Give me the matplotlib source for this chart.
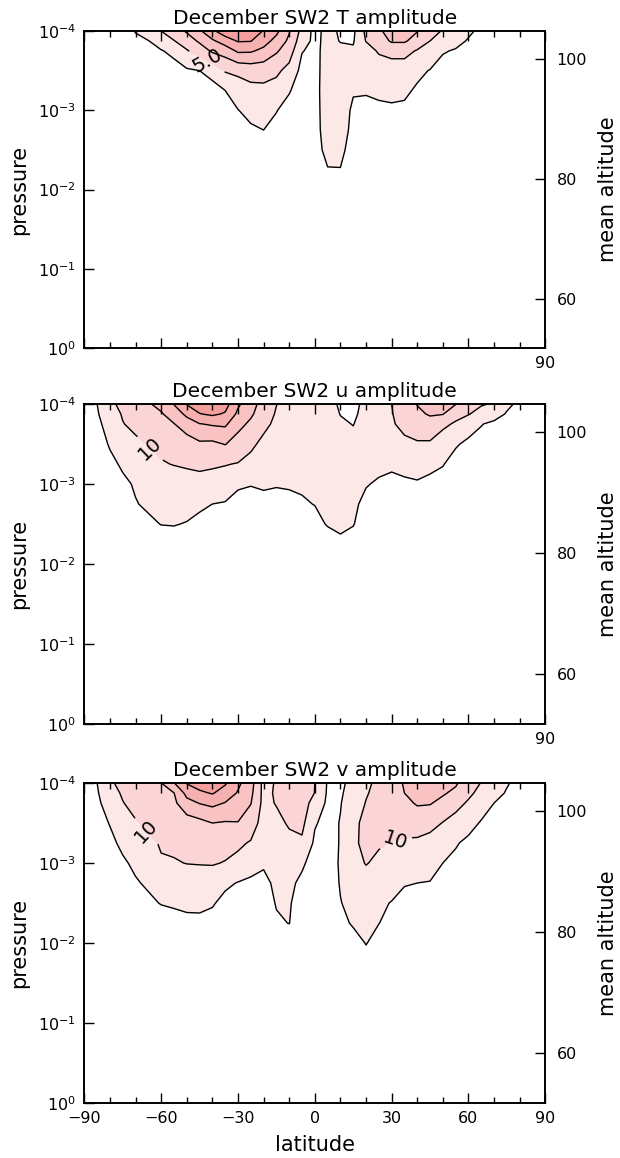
import matplotlib.pyplot as plt
import numpy as np

# latitude columns (deg) and log10(pressure) rows
lats = np.arange(-90, 91, 5)
logp = [-4, -3.875, -3.75, -3.5, -3.25, -3, -2.75, -2.5, -2.25, -2, -1.5, -1, 0]

# amplitudes, one list per latitude (top of the model down to 10^0)
t_amp = [
    [0, 0, 0, 0, 0, 0, 0, 0, 0, 0, 0, 0, 0],
    [0.2, 0.1, 0.1, 0, 0, 0, 0, 0, 0, 0, 0, 0, 0],
    [0.6, 0.5, 0.4, 0.2, 0.1, 0, 0, 0, 0, 0, 0, 0, 0],
    [1.5, 1.2, 1.0, 0.6, 0.3, 0.1, 0, 0, 0, 0, 0, 0, 0],
    [2.6, 2.1, 1.7, 1.0, 0.5, 0.2, 0.1, 0, 0, 0, 0, 0, 0],
    [3.4, 2.45, 2.0, 1.3, 0.7, 0.3, 0.1, 0, 0, 0, 0, 0, 0],
    [5.0, 3.3, 2.4, 1.5, 0.8, 0.4, 0.2, 0.1, 0, 0, 0, 0, 0],
    [6.3, 4.9, 2.9, 1.9, 1.0, 0.5, 0.2, 0.1, 0, 0, 0, 0, 0],
    [7.8, 6.2, 4.8, 2.2, 1.2, 0.7, 0.3, 0.1, 0, 0, 0, 0, 0],
    [9.6, 7.9, 6.1, 2.5, 1.6, 0.9, 0.4, 0.2, 0.1, 0, 0, 0, 0],
    [12.0, 9.6, 7.9, 3.3, 1.7, 1.1, 0.5, 0.3, 0.1, 0, 0, 0, 0],
    [14.0, 11.2, 8.6, 5.2, 2.5, 1.4, 0.8, 0.4, 0.2, 0.1, 0, 0, 0],
    [15.0, 12.7, 10.4, 5.6, 3.6, 2.45, 1.6, 0.8, 0.4, 0.2, 0.1, 0, 0],
    [14.5, 12.6, 10.3, 6.0, 4.3, 3.1, 2.2, 1.2, 0.6, 0.3, 0.1, 0, 0],
    [12.3, 11.0, 9.4, 6.0, 4.4, 3.2, 2.5, 1.4, 0.7, 0.3, 0.1, 0, 0],
    [10.6, 9.2, 7.8, 5.5, 4.0, 2.6, 1.8, 1.0, 0.5, 0.2, 0.1, 0, 0],
    [7.7, 7.0, 6.2, 4.2, 2.7, 1.6, 1.0, 0.5, 0.3, 0.1, 0, 0, 0],
    [4.2, 3.6, 2.6, 1.8, 1.2, 0.7, 0.4, 0.3, 0.2, 0.1, 0, 0, 0],
    [1.8, 1.9, 2.0, 2.1, 2.2, 2.2, 2.2, 2.1, 1.8, 1.2, 0.5, 0.1, 0],
    [3.2, 3.2, 3.2, 3.1, 3.0, 2.95, 2.9, 2.8, 2.45, 1.9, 0.9, 0.4, 0.1],
    [2.2, 2.4, 3.0, 3.2, 3.2, 3.1, 3.0, 2.9, 2.45, 1.9, 0.8, 0.3, 0.1],
    [2.0, 2.3, 2.8, 2.9, 2.6, 2.3, 2.2, 1.8, 1.2, 0.6, 0.2, 0, 0],
    [5.6, 5.1, 3.9, 3.2, 2.7, 1.9, 1.3, 0.8, 0.5, 0.3, 0.1, 0, 0],
    [7.0, 6.3, 5.3, 3.6, 2.8, 2.2, 1.4, 0.9, 0.5, 0.3, 0.1, 0, 0],
    [8.8, 7.8, 5.8, 3.8, 3.0, 2.2, 1.5, 0.9, 0.5, 0.3, 0.1, 0, 0],
    [9.0, 7.8, 5.8, 3.8, 2.9, 2.1, 1.4, 0.8, 0.4, 0.2, 0.1, 0, 0],
    [7.6, 6.5, 4.8, 3.0, 2.2, 1.7, 1.0, 0.6, 0.3, 0.2, 0.1, 0, 0],
    [6.0, 5.0, 4.0, 2.4, 1.8, 1.3, 0.8, 0.4, 0.2, 0.1, 0, 0, 0],
    [4.8, 4.0, 2.7, 1.6, 1.1, 0.8, 0.5, 0.3, 0.1, 0, 0, 0, 0],
    [3.8, 3.2, 2.3, 1.4, 0.9, 0.6, 0.3, 0.2, 0.1, 0, 0, 0, 0],
    [2.9, 2.3, 1.8, 1.1, 0.7, 0.4, 0.2, 0.1, 0, 0, 0, 0, 0],
    [2.0, 1.7, 1.3, 0.8, 0.4, 0.2, 0.1, 0, 0, 0, 0, 0, 0],
    [1.2, 1.0, 0.7, 0.4, 0.2, 0.1, 0, 0, 0, 0, 0, 0, 0],
    [0.6, 0.5, 0.4, 0.2, 0.1, 0, 0, 0, 0, 0, 0, 0, 0],
    [0.3, 0.2, 0.2, 0.1, 0, 0, 0, 0, 0, 0, 0, 0, 0],
    [0.1, 0.1, 0.1, 0, 0, 0, 0, 0, 0, 0, 0, 0, 0],
    [0, 0, 0, 0, 0, 0, 0, 0, 0, 0, 0, 0, 0],
]

u_amp = [
    [3.5, 3.0, 2.5, 1.8, 1.2, 0.8, 0.5, 0.3, 0.2, 0.1, 0, 0, 0],
    [5.0, 4.6, 4.1, 3.1, 2.2, 1.5, 1.0, 0.6, 0.4, 0.2, 0.1, 0, 0],
    [9.0, 7.7, 6.6, 5.4, 4.0, 2.8, 1.8, 1.0, 0.6, 0.3, 0.1, 0, 0],
    [11.2, 10.4, 9.8, 7.2, 5.6, 4.2, 2.6, 1.5, 0.8, 0.4, 0.1, 0, 0],
    [13.4, 12.2, 11.2, 9.0, 6.9, 5.4, 4.8, 3.2, 1.6, 0.8, 0.2, 0, 0],
    [14.5, 13.7, 12.5, 10.2, 8.2, 6.6, 5.6, 4.3, 2.6, 1.4, 0.5, 0.1, 0],
    [16.5, 14.5, 13.2, 11.2, 9.6, 7.2, 6.0, 5.1, 3.0, 1.6, 0.5, 0.1, 0],
    [20.2, 17.5, 14.8, 12.0, 10.2, 7.4, 6.2, 5.2, 3.2, 1.7, 0.5, 0.1, 0],
    [25.3, 21.0, 17.8, 12.4, 10.6, 8.0, 6.4, 4.8, 3.0, 1.5, 0.4, 0.1, 0],
    [27.5, 24.8, 19.8, 14.2, 11.0, 8.3, 5.7, 4.0, 2.9, 1.4, 0.4, 0.1, 0],
    [28.5, 25.8, 20.5, 14.0, 10.8, 7.5, 5.0, 4.0, 2.5, 1.2, 0.3, 0.1, 0],
    [27.0, 24.5, 20.8, 15.2, 10.2, 8.0, 4.6, 3.4, 2.0, 1.0, 0.3, 0.1, 0],
    [20.8, 19.0, 16.6, 12.8, 9.8, 5.6, 3.6, 2.8, 1.6, 0.8, 0.3, 0.1, 0],
    [17.0, 15.8, 14.0, 11.0, 8.5, 5.2, 3.4, 2.4, 1.5, 0.8, 0.3, 0.1, 0],
    [13.0, 12.2, 11.2, 8.8, 7.3, 5.7, 3.5, 2.3, 1.4, 0.7, 0.2, 0.1, 0],
    [10.1, 9.6, 9.0, 7.8, 6.5, 5.3, 3.6, 2.4, 1.4, 0.7, 0.2, 0.1, 0],
    [8.8, 8.6, 8.3, 7.4, 6.3, 5.4, 4.0, 2.5, 1.5, 0.8, 0.2, 0.1, 0],
    [8.0, 8.0, 7.8, 7.0, 6.2, 5.5, 4.6, 3.0, 1.8, 0.9, 0.3, 0.1, 0],
    [7.5, 7.5, 7.3, 6.8, 6.2, 5.8, 5.1, 3.8, 2.2, 1.1, 0.3, 0.1, 0],
    [6.5, 6.6, 6.6, 6.5, 6.2, 5.9, 5.6, 5.3, 3.0, 1.4, 0.4, 0.1, 0],
    [4.4, 4.9, 5.5, 6.3, 6.2, 6.0, 5.8, 5.6, 4.4, 1.8, 0.4, 0.1, 0],
    [3.8, 4.3, 4.9, 6.0, 6.3, 6.0, 5.6, 5.2, 3.4, 1.5, 0.4, 0.1, 0],
    [6.2, 6.3, 6.5, 6.6, 6.2, 5.2, 4.2, 3.0, 1.8, 0.9, 0.3, 0.1, 0],
    [8.2, 8.0, 7.7, 7.0, 5.8, 4.6, 3.2, 2.0, 1.2, 0.6, 0.2, 0.1, 0],
    [10.0, 9.8, 9.6, 8.0, 5.4, 4.4, 3.0, 1.9, 1.1, 0.5, 0.2, 0, 0],
    [12.5, 11.8, 11.0, 9.2, 5.9, 4.5, 3.0, 1.9, 1.1, 0.5, 0.2, 0, 0],
    [15.2, 14.0, 12.5, 9.5, 6.2, 4.7, 3.0, 1.9, 1.1, 0.5, 0.2, 0, 0],
    [16.0, 15.5, 13.0, 9.4, 5.6, 4.4, 2.8, 1.7, 1.0, 0.5, 0.2, 0, 0],
    [16.0, 15.2, 11.0, 7.5, 5.2, 3.6, 2.2, 1.4, 0.8, 0.4, 0.1, 0, 0],
    [15.2, 11.5, 9.4, 5.4, 3.6, 2.6, 1.6, 1.0, 0.6, 0.3, 0.1, 0, 0],
    [13.0, 10.3, 6.8, 4.2, 3.0, 2.0, 1.3, 0.8, 0.4, 0.2, 0.1, 0, 0],
    [10.5, 8.0, 5.2, 3.5, 2.4, 1.6, 1.0, 0.6, 0.3, 0.2, 0.1, 0, 0],
    [9.5, 7.0, 4.0, 3.0, 1.8, 1.2, 0.8, 0.5, 0.3, 0.1, 0, 0, 0],
    [6.0, 4.6, 3.5, 2.2, 1.3, 0.9, 0.6, 0.4, 0.2, 0.1, 0, 0, 0],
    [4.0, 3.2, 2.6, 1.6, 1.0, 0.7, 0.4, 0.3, 0.1, 0, 0, 0, 0],
    [2.5, 2.0, 1.6, 1.0, 0.6, 0.4, 0.3, 0.2, 0.1, 0, 0, 0, 0],
    [1.5, 1.2, 1.0, 0.6, 0.4, 0.3, 0.2, 0.1, 0, 0, 0, 0, 0],
]

v_amp = [
    [3.5, 3.0, 2.6, 1.9, 1.3, 0.9, 0.6, 0.4, 0.2, 0.1, 0, 0, 0],
    [5.0, 4.6, 4.2, 3.4, 2.6, 1.8, 1.2, 0.8, 0.5, 0.3, 0.1, 0, 0],
    [9.2, 8.0, 6.9, 5.2, 4.0, 3.2, 2.1, 1.2, 0.7, 0.4, 0.1, 0, 0],
    [11.5, 10.6, 9.8, 7.8, 5.9, 4.4, 3.0, 1.8, 1.0, 0.5, 0.1, 0, 0],
    [13.5, 12.5, 11.6, 9.6, 7.6, 5.8, 4.6, 3.0, 1.6, 0.8, 0.2, 0, 0],
    [14.6, 14.0, 13.0, 11.0, 9.0, 7.0, 5.6, 4.2, 2.4, 1.2, 0.3, 0, 0],
    [14.9, 14.4, 13.6, 11.8, 10.4, 9.6, 7.0, 5.2, 3.0, 1.5, 0.4, 0.1, 0],
    [19.8, 14.9, 14.0, 12.6, 10.8, 9.7, 7.4, 5.6, 3.4, 1.7, 0.5, 0.1, 0],
    [25.3, 21.5, 18.4, 12.6, 11.4, 10.1, 7.8, 5.9, 4.0, 2.0, 0.5, 0.1, 0],
    [27.5, 24.0, 20.2, 13.6, 11.6, 10.2, 8.0, 5.8, 4.2, 2.2, 0.6, 0.1, 0],
    [28.2, 25.4, 21.2, 15.0, 11.8, 10.3, 7.8, 5.4, 3.6, 1.8, 0.5, 0.1, 0],
    [25.6, 22.8, 19.8, 14.6, 11.4, 9.8, 5.8, 3.8, 2.4, 1.2, 0.3, 0.1, 0],
    [21.0, 19.6, 18.0, 14.8, 10.8, 8.8, 4.8, 3.2, 2.0, 1.0, 0.3, 0.1, 0],
    [17.0, 16.2, 15.2, 12.5, 9.6, 6.8, 4.2, 2.8, 1.8, 0.9, 0.3, 0.1, 0],
    [8.5, 8.6, 8.6, 8.0, 6.8, 5.5, 4.0, 2.8, 1.8, 0.9, 0.3, 0.1, 0],
    [10.4, 10.6, 10.3, 8.6, 7.4, 6.4, 5.8, 5.3, 4.4, 2.0, 0.6, 0.1, 0],
    [12.5, 12.2, 11.5, 10.6, 8.6, 6.6, 5.8, 5.4, 5.1, 2.4, 0.6, 0.1, 0],
    [13.0, 12.8, 12.4, 11.2, 9.2, 5.6, 4.2, 3.0, 2.0, 1.0, 0.3, 0.1, 0],
    [10.0, 9.9, 8.0, 5.4, 4.2, 3.4, 2.6, 2.0, 1.4, 0.7, 0.2, 0.1, 0],
    [4.6, 4.4, 4.2, 3.6, 3.0, 2.4, 1.8, 1.4, 1.0, 0.5, 0.2, 0, 0],
    [4.5, 4.6, 4.8, 5.2, 5.3, 5.6, 5.4, 4.8, 3.6, 2.0, 0.6, 0.1, 0],
    [5.8, 6.4, 7.4, 8.4, 9.0, 8.6, 7.6, 6.6, 5.6, 3.0, 0.8, 0.2, 0],
    [9.0, 9.6, 10.2, 11.8, 11.4, 10.2, 8.4, 6.8, 5.8, 5.2, 1.2, 0.3, 0],
    [11.2, 11.5, 11.8, 11.6, 10.4, 9.2, 7.4, 5.8, 5.1, 3.2, 1.0, 0.2, 0],
    [13.0, 13.0, 12.8, 12.0, 9.8, 8.6, 6.8, 4.8, 3.4, 2.0, 0.6, 0.1, 0],
    [15.4, 15.0, 14.0, 12.4, 9.2, 8.2, 5.3, 3.6, 2.4, 1.4, 0.4, 0.1, 0],
    [17.2, 16.6, 15.4, 12.6, 9.0, 8.0, 5.0, 3.7, 2.4, 1.3, 0.4, 0.1, 0],
    [17.5, 16.8, 15.3, 11.8, 8.0, 6.9, 4.8, 3.2, 2.0, 1.1, 0.3, 0.1, 0],
    [16.5, 15.5, 13.8, 9.8, 7.8, 5.0, 4.0, 2.6, 1.6, 0.9, 0.3, 0.1, 0],
    [15.6, 14.0, 11.6, 8.2, 5.4, 4.0, 3.0, 2.0, 1.2, 0.7, 0.2, 0, 0],
    [12.4, 11.0, 9.4, 6.6, 4.0, 3.4, 2.4, 1.6, 1.0, 0.5, 0.1, 0, 0],
    [9.8, 8.6, 7.2, 4.6, 3.5, 2.5, 1.8, 1.2, 0.7, 0.4, 0.1, 0, 0],
    [7.6, 6.6, 5.0, 3.9, 2.7, 1.9, 1.3, 0.9, 0.5, 0.3, 0.1, 0, 0],
    [5.4, 4.6, 4.0, 2.9, 2.0, 1.4, 1.0, 0.7, 0.4, 0.2, 0, 0, 0],
    [3.6, 3.2, 2.8, 2.0, 1.4, 1.0, 0.7, 0.5, 0.3, 0.1, 0, 0, 0],
    [2.4, 2.0, 1.8, 1.3, 0.9, 0.6, 0.4, 0.3, 0.2, 0.1, 0, 0, 0],
    [1.6, 1.4, 1.2, 0.9, 0.6, 0.4, 0.3, 0.2, 0.1, 0, 0, 0, 0],
]

titles = ['December SW2 T amplitude', 'December SW2 u amplitude', 'December SW2 v amplitude']
t_levels = [2.5, 5, 7.5, 10, 12.5, 15]
uv_levels = [5, 10, 15, 20, 25, 30]
fills = ['#fde8e8', '#fbd5d5', '#f9c3c3', '#f7b0b0', '#f59e9e', '#f38c8c']
xtick_vals = [-90, -60, -30, 0, 30, 60, 90]
ytick_vals = [-4, -3, -2, -1, 0]
ytick_text = [r'$10^{-4}$', r'$10^{-3}$', r'$10^{-2}$', r'$10^{-1}$', r'$10^{0}$']
alt_ticks = [60, 80, 100]

# mean altitude (km) vs log10 p
def alt(lp):
    return 100 - 13.2 * (lp + 3.65)

plt.rcParams['font.family'] = 'DejaVu Sans'

fig = plt.figure(figsize=(6.2, 11.58), dpi=100)
boxes = [[0.136, 0.6995, 0.7435, 0.2737],
         [0.136, 0.3748, 0.7435, 0.2763],
         [0.136, 0.0475, 0.7435, 0.2763]]
fields = [t_amp, u_amp, v_amp]
levs = [t_levels, uv_levels, uv_levels]
fmts = ['%.1f', '%d', '%d']
label_at = [[(-42, -3.62)], [(-67, -3.36)], [(-67, -3.36), (31, -3.32)]]

for i in range(3):
    ax = fig.add_axes(boxes[i])
    z = np.array(fields[i]).T
    lv = levs[i]
    ax.contourf(lats, logp, z, levels=lv, colors=fills, extend='max')
    ax.contour(lats, logp, z, levels=[lv[0]] + lv[2:], colors='k', linewidths=1.0)
    cs = ax.contour(lats, logp, z, levels=[lv[1]], colors='k', linewidths=1.0)
    ax.clabel(cs, fmt=fmts[i], manual=label_at[i], inline=True, fontsize=14)
    ax.set_xlim(-90, 90)
    ax.set_ylim(0, -4)
    ax.set_xticks(xtick_vals)
    ax.set_xticks(np.arange(-90, 91, 10), minor=True)
    if i == 2:
        ax.set_xticklabels(['\u221290', '\u221260', '\u221230', '0', '30', '60', '90'])
        ax.set_xlabel('latitude', fontsize=15, labelpad=6)
    else:
        ax.set_xticklabels(['', '', '', '', '', '', '90'])
    ax.set_yticks(ytick_vals)
    ax.set_yticklabels(ytick_text)
    ax.set_ylabel('pressure', fontsize=15, labelpad=6)
    ax.tick_params(which='both', direction='in', top=True, right=False, labelsize=11.5, pad=6)
    ax.tick_params(which='major', length=7, width=1)
    ax.tick_params(which='minor', length=4, width=1)
    ax.set_title(titles[i], fontsize=14.5, pad=5)
    for s in ax.spines.values():
        s.set_linewidth(1.2)

    ax2 = ax.twinx()
    ax2.set_ylim(alt(0), alt(-4))
    ax2.set_yticks(alt_ticks)
    ax2.tick_params(direction='in', length=7, width=1, labelsize=11.5, pad=8)
    ax2.set_ylabel('mean altitude', fontsize=15, labelpad=8)
    for s in ax2.spines.values():
        s.set_linewidth(1.2)

fig.savefig('out.png', dpi=100)
